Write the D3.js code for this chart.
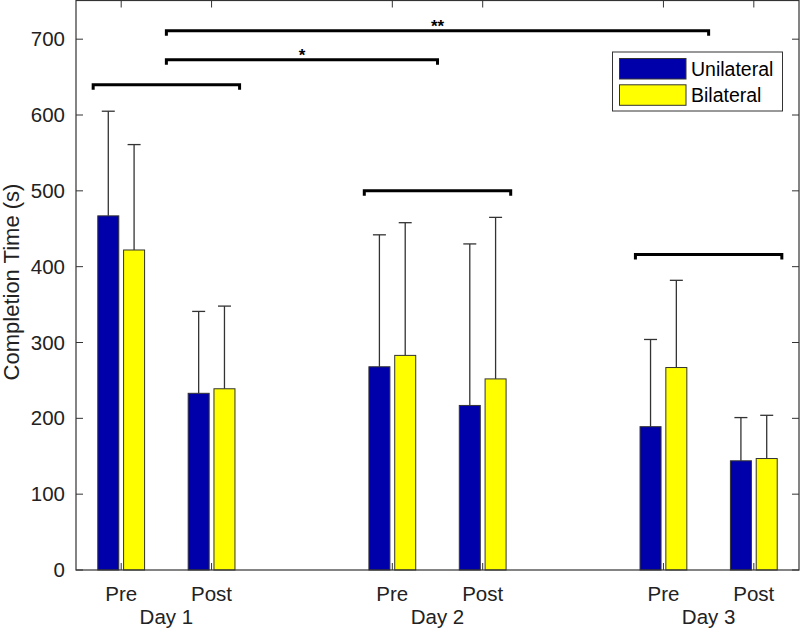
<!DOCTYPE html>
<html><head><meta charset="utf-8">
<script src="https://cdn.jsdelivr.net/npm/d3@7"></script>
<style>body{margin:0;background:#fff}svg{display:block}text{font-family:"Liberation Sans",Arial,sans-serif;fill:#222}</style>
</head><body>
<script>
const days = ["Day 1", "Day 2", "Day 3"];
const phases = ["Pre", "Post"];
const positions = [1, 2, 4, 5, 7, 8];
const series = ["Unilateral", "Bilateral"];
const unilateral = [467, 233, 268, 217, 189, 144];
const unilateralErr = [605, 341, 442, 430, 304, 201];
const bilateral = [422, 239, 283, 252, 267, 147];
const bilateralErr = [561, 348, 458, 465, 382, 204];
const yTicks = [0, 100, 200, 300, 400, 500, 600, 700];
const brackets = [
  {x1: 0.69, x2: 2.31, y: 640, label: ""},
  {x1: 1.5, x2: 4.5, y: 673, label: "*"},
  {x1: 1.5, x2: 7.5, y: 711, label: "**"},
  {x1: 3.69, x2: 5.31, y: 500, label: ""},
  {x1: 6.69, x2: 8.31, y: 416, label: ""}
];
const colors = ["#0000aa", "#ffff00"];

const W = 800, H = 630;
const L = 76, R = 799, T = 0.5, B = 570;
const svg = d3.select("body").append("svg").attr("width", W).attr("height", H);
const x = d3.scaleLinear().domain([0.5, 8.5]).range([L, R]);
const y = d3.scaleLinear().domain([0, 751]).range([B, T]);
const off = 12.9, bw = 21;

const data = [unilateral, bilateral];
const errs = [unilateralErr, bilateralErr];
const g = svg.append("g");
series.forEach((s, si) => {
  const dx = si === 0 ? -off : off;
  g.selectAll(null).data(positions).enter().append("line")
    .attr("x1", (p) => x(p) + dx).attr("x2", (p) => x(p) + dx)
    .attr("y1", (p, i) => y(data[si][i])).attr("y2", (p, i) => y(errs[si][i]))
    .attr("stroke", "#333").attr("stroke-width", 1.3);
  g.selectAll(null).data(positions).enter().append("line")
    .attr("x1", (p) => x(p) + dx - 6.5).attr("x2", (p) => x(p) + dx + 6.5)
    .attr("y1", (p, i) => y(errs[si][i])).attr("y2", (p, i) => y(errs[si][i]))
    .attr("stroke", "#333").attr("stroke-width", 1.3);
  g.selectAll(null).data(positions).enter().append("rect")
    .attr("x", (p) => x(p) + dx - bw / 2).attr("width", bw)
    .attr("y", (p, i) => y(data[si][i])).attr("height", (p, i) => B - y(data[si][i]))
    .attr("fill", colors[si]).attr("stroke", "#333").attr("stroke-width", 1);
});

const ax = svg.append("g");
ax.append("rect").attr("x", L).attr("y", T).attr("width", R - L).attr("height", B - T)
  .attr("fill", "none").attr("stroke", "#333").attr("stroke-width", 1.2);
yTicks.forEach(t => {
  ax.append("line").attr("x1", L).attr("x2", L + 7).attr("y1", y(t)).attr("y2", y(t)).attr("stroke", "#333");
  ax.append("line").attr("x1", R - 7).attr("x2", R).attr("y1", y(t)).attr("y2", y(t)).attr("stroke", "#333");
  ax.append("text").attr("x", L - 11).attr("y", y(t) + 7).attr("text-anchor", "end")
    .attr("font-size", 20.5).text(t);
});
positions.forEach((p, i) => {
  ax.append("line").attr("x1", x(p)).attr("x2", x(p)).attr("y1", T).attr("y2", T + 7).attr("stroke", "#333");
  ax.append("line").attr("x1", x(p)).attr("x2", x(p)).attr("y1", B).attr("y2", B - 7).attr("stroke", "#333");
  ax.append("text").attr("x", x(p)).attr("y", 601).attr("text-anchor", "middle")
    .attr("font-size", 20.5).text(phases[i % 2]);
});
days.forEach((d, i) => {
  ax.append("text").attr("x", (x(positions[2 * i]) + x(positions[2 * i + 1])) / 2).attr("y", 624)
    .attr("text-anchor", "middle").attr("font-size", 20.5).text(d);
});
svg.append("text").attr("transform", `translate(19,282) rotate(-90)`)
  .attr("text-anchor", "middle").attr("font-size", 22).text("Completion Time (s)");

brackets.forEach(b => {
  const yy = y(b.y);
  svg.append("path")
    .attr("d", `M${x(b.x1)},${yy + 5}V${yy}H${x(b.x2)}V${yy + 5}`)
    .attr("fill", "none").attr("stroke", "#000").attr("stroke-width", 3);
  if (b.label) svg.append("text").attr("x", (x(b.x1) + x(b.x2)) / 2).attr("y", yy + 1)
    .attr("text-anchor", "middle").attr("font-size", 17).attr("font-weight", "bold").style("fill", "#000").text(b.label);
});

const lg = svg.append("g");
lg.append("rect").attr("x", 612.5).attr("y", 52).attr("width", 170).attr("height", 59)
  .attr("fill", "#fff").attr("stroke", "#333").attr("stroke-width", 1);
series.forEach((s, i) => {
  lg.append("rect").attr("x", 619.5).attr("y", 58.5 + i * 26.3).attr("width", 66.5).attr("height", 20.5)
    .attr("fill", colors[i]).attr("stroke", "#333");
  lg.append("text").attr("x", 691).attr("y", 76 + i * 26.3).attr("font-size", 19.5).style("fill", "#000").text(s);
});
</script>
</body></html>
